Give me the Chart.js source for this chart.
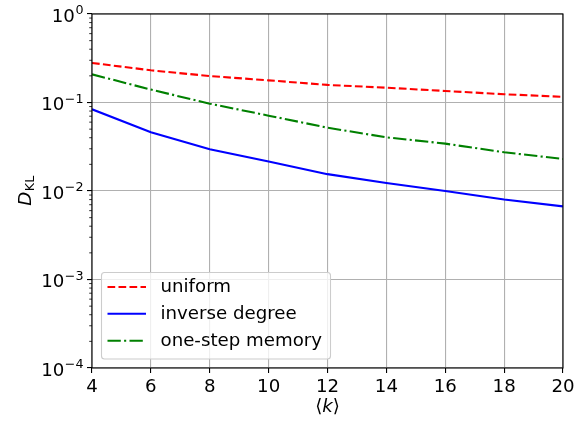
<!DOCTYPE html>
<html>
<head>
<meta charset="utf-8">
<script src="https://cdn.jsdelivr.net/npm/chart.js@4.4.1/dist/chart.umd.min.js"></script>
<style>
    html, body { margin: 0; padding: 0; background: #ffffff; }
    #grafico_box { width: 586px; height: 424px; }
</style>
</head>
<body>
<div id="grafico_box"><canvas id="chart_dkl"></canvas></div>
<script>
// dados do grafico
const graus_medios = [4, 6, 8, 10, 12, 14, 16, 18, 20];
const dkl_uniforme = [0.280, 0.231, 0.199, 0.178, 0.158, 0.147, 0.135, 0.124, 0.116];
const dkl_grau_inverso = [0.0838, 0.0460, 0.0296, 0.0215, 0.0155, 0.0123, 0.0100, 0.0080, 0.0067];
const dkl_memoria = [0.208, 0.140, 0.097, 0.071, 0.0519, 0.0404, 0.0343, 0.0274, 0.0230];
const nomes_series = ['uniform', 'inverse degree', 'one-step memory'];
const ticks_x = [4, 6, 8, 10, 12, 14, 16, 18, 20];
const expoentes_y = [-4, -3, -2, -1, 0];

const FONTE = 'DejaVu Sans';
const TAM = 18.2;
const TAM_SUP = 12.7;

function pontos(valores) {
    return graus_medios.map((k, i) => ({ x: k, y: valores[i] }));
}

// moldura, ticks menores, rotulos do eixo y, titulos e legenda
const desenhoExtra = {
    id: 'desenhoExtra',
    afterDraw(chart) {
        const ctx = chart.ctx;
        const area = chart.chartArea;
        const escalaY = chart.scales.y;
        ctx.save();

        // ticks menores do log
        ctx.strokeStyle = '#000';
        ctx.lineWidth = 0.8;
        for (let d = -4; d < 0; d++) {
            for (let m = 2; m <= 9; m++) {
                const py = escalaY.getPixelForValue(m * Math.pow(10, d));
                ctx.beginPath();
                ctx.moveTo(area.left - 2.8, py);
                ctx.lineTo(area.left, py);
                ctx.stroke();
            }
        }

        // moldura
        ctx.lineWidth = 1.1;
        ctx.strokeRect(area.left, area.top, area.right - area.left, area.bottom - area.top);

        // rotulos 10^n
        ctx.fillStyle = '#000';
        ctx.textBaseline = 'alphabetic';
        ctx.textAlign = 'left';
        expoentes_y.forEach(function (e) {
            const py = escalaY.getPixelForValue(Math.pow(10, e));
            const sup = e < 0 ? '\u2212' + (-e) : String(e);
            ctx.font = TAM + 'px "' + FONTE + '"';
            const wBase = ctx.measureText('10').width;
            ctx.font = TAM_SUP + 'px "' + FONTE + '"';
            const wSup = ctx.measureText(sup).width;
            const direita = area.left - 9;
            const x0 = direita - wBase - wSup;
            ctx.font = TAM + 'px "' + FONTE + '"';
            ctx.fillText('10', x0, py + 7.6);
            ctx.font = TAM_SUP + 'px "' + FONTE + '"';
            ctx.fillText(sup, x0 + wBase + 0.5, py + 0.2);
        });

        // titulo x: <k>
        const cx = (area.left + area.right) / 2;
        ctx.font = TAM + 'px "' + FONTE + '"';
        const wA = ctx.measureText('\u27E8').width;
        ctx.font = 'italic ' + TAM + 'px "' + FONTE + '"';
        const wK = ctx.measureText('k').width;
        ctx.font = TAM + 'px "' + FONTE + '"';
        const wF = ctx.measureText('\u27E9').width;
        let xt = cx - (wA + wK + wF) / 2;
        const baseX = 412;
        ctx.fillText('\u27E8', xt, baseX);
        ctx.font = 'italic ' + TAM + 'px "' + FONTE + '"';
        ctx.fillText('k', xt + wA, baseX);
        ctx.font = TAM + 'px "' + FONTE + '"';
        ctx.fillText('\u27E9', xt + wA + wK, baseX);

        // titulo y: D_KL
        ctx.save();
        ctx.translate(31, (area.top + area.bottom) / 2);
        ctx.rotate(-Math.PI / 2);
        ctx.font = 'italic ' + TAM + 'px "' + FONTE + '"';
        const wD = ctx.measureText('D').width;
        ctx.font = TAM_SUP + 'px "' + FONTE + '"';
        const wKL = ctx.measureText('KL').width;
        const x1 = -(wD + wKL) / 2;
        ctx.font = 'italic ' + TAM + 'px "' + FONTE + '"';
        ctx.fillText('D', x1, 0);
        ctx.font = TAM_SUP + 'px "' + FONTE + '"';
        ctx.fillText('KL', x1 + wD + 0.5, 3.2);
        ctx.restore();

        // legenda
        const lx = 101.5, ly = 272.5, lw = 229, lh = 86.5;
        ctx.beginPath();
        ctx.roundRect(lx, ly, lw, lh, 3);
        ctx.fillStyle = 'rgba(255,255,255,0.8)';
        ctx.fill();
        ctx.strokeStyle = '#cccccc';
        ctx.lineWidth = 1.1;
        ctx.stroke();
        const linhasY = [287, 313.7, 340.7];
        chart.data.datasets.forEach(function (ds, i) {
            ctx.beginPath();
            ctx.strokeStyle = ds.borderColor;
            ctx.lineWidth = ds.borderWidth;
            ctx.setLineDash(ds.borderDash || []);
            ctx.moveTo(107.5, linhasY[i]);
            ctx.lineTo(146, linhasY[i]);
            ctx.stroke();
            ctx.setLineDash([]);
            ctx.fillStyle = '#000';
            ctx.font = TAM + 'px "' + FONTE + '"';
            ctx.textBaseline = 'middle';
            ctx.fillText(ds.label, 160.5, linhasY[i] + 0.5);
        });

        ctx.restore();
    }
};

const ctxDkl = document.getElementById('chart_dkl');

new Chart(ctxDkl, {
    type: 'line',
    data: {
        datasets: [{
            label: nomes_series[0],
            data: pontos(dkl_uniforme),
            borderColor: '#ff0000',
            borderWidth: 2.1,
            borderDash: [7.7, 3.3],
            pointRadius: 0,
            tension: 0
        }, {
            label: nomes_series[1],
            data: pontos(dkl_grau_inverso),
            borderColor: '#0000ff',
            borderWidth: 2.1,
            pointRadius: 0,
            tension: 0
        }, {
            label: nomes_series[2],
            data: pontos(dkl_memoria),
            borderColor: '#008000',
            borderWidth: 2.1,
            borderDash: [13.3, 3.3, 2.1, 3.3],
            pointRadius: 0,
            tension: 0
        }]
    },
    options: {
        responsive: true,
        maintainAspectRatio: false,
        animation: false,
        layout: {
            padding: { left: 0, top: 14, right: 23, bottom: 0 }
        },
        scales: {
            x: {
                type: 'linear',
                min: 4,
                max: 20,
                afterBuildTicks: function (s) {
                    s.ticks = ticks_x.map(v => ({ value: v }));
                },
                afterFit: function (s) { s.height = 56; },
                ticks: {
                    color: '#000',
                    padding: 3,
                    maxRotation: 0,
                    font: { family: FONTE, size: TAM }
                },
                grid: {
                    color: '#b0b0b0',
                    lineWidth: 1.1,
                    tickColor: '#000',
                    tickLength: 5,
                    tickWidth: 1.1
                },
                border: { display: false }
            },
            y: {
                type: 'logarithmic',
                min: 1e-4,
                max: 1,
                afterBuildTicks: function (s) {
                    s.ticks = expoentes_y.map(e => ({ value: Math.pow(10, e) }));
                },
                afterFit: function (s) { s.width = 92; },
                ticks: {
                    display: false
                },
                grid: {
                    color: '#b0b0b0',
                    lineWidth: 1.1,
                    tickColor: '#000',
                    tickLength: 5,
                    tickWidth: 1.1
                },
                border: { display: false }
            }
        },
        plugins: {
            legend: { display: false },
            tooltip: { enabled: false }
        }
    },
    plugins: [desenhoExtra]
});
</script>
</body>
</html>
